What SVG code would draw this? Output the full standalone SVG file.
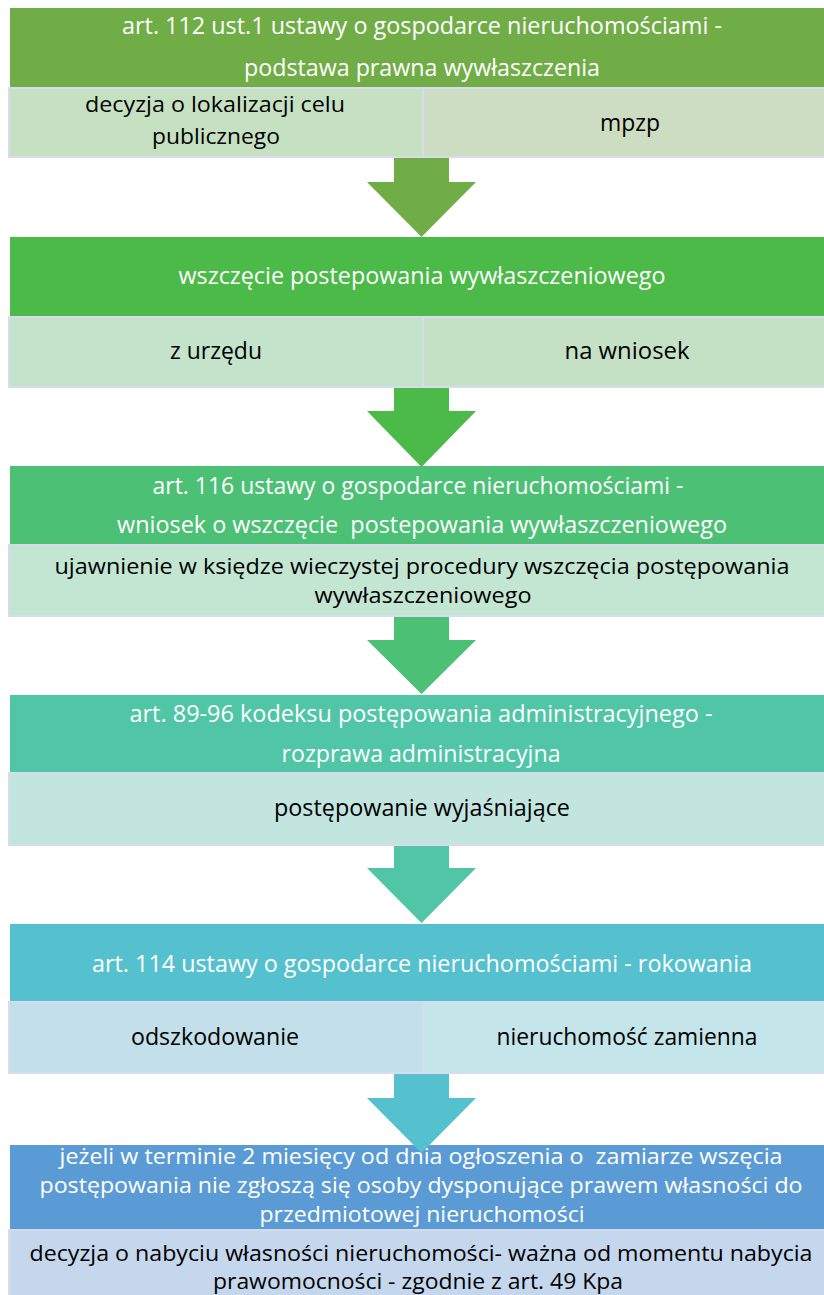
<svg xmlns="http://www.w3.org/2000/svg" width="824" height="1295" viewBox="0 0 824 1295">
<style>
.h{font-family:"Open Sans","Liberation Sans",sans-serif;font-size:23px;fill:#ffffff;text-anchor:middle;white-space:pre}
.t{font-family:"Open Sans","Liberation Sans",sans-serif;font-size:23px;fill:#000000;text-anchor:middle;white-space:pre}
.s{font-size:22px}
.cell{stroke:#D6DCEE;stroke-width:2}
</style>
<rect width="824" height="1295" fill="#ffffff"/>
<g id="node1">
<rect x="10" y="8" width="824" height="80" fill="#70AD47"/>
<rect class="cell" x="9" y="88" width="414" height="69" fill="#C6E0C2"/>
<rect class="cell" x="423" y="88" width="410" height="69" fill="#CCDDC1"/>
<text class="h" x="422" y="34" textLength="600" lengthAdjust="spacingAndGlyphs">art. 112 ust.1 ustawy o gospodarce nieruchomościami -</text>
<text class="h" x="422" y="76" textLength="356" lengthAdjust="spacingAndGlyphs">podstawa prawna wywłaszczenia</text>
<text class="t s" x="215" y="112" textLength="260" lengthAdjust="spacingAndGlyphs">decyzja o lokalizacji celu</text>
<text class="t s" x="216" y="144" textLength="128" lengthAdjust="spacingAndGlyphs">publicznego</text>
<text class="t" x="630" y="131" textLength="60" lengthAdjust="spacingAndGlyphs">mpzp</text>
</g>
<g id="node2">
<rect x="10" y="237" width="824" height="80" fill="#4BBA48"/>
<rect class="cell" x="9" y="317" width="414" height="70" fill="#C3E3CA"/>
<rect class="cell" x="423" y="317" width="410" height="70" fill="#C4E1C6"/>
<text class="h" x="422" y="284" textLength="487" lengthAdjust="spacingAndGlyphs">wszczęcie postepowania wywłaszczeniowego</text>
<text class="t" x="216" y="359" textLength="92" lengthAdjust="spacingAndGlyphs">z urzędu</text>
<text class="t" x="627" y="359" textLength="125" lengthAdjust="spacingAndGlyphs">na wniosek</text>
</g>
<g id="node3">
<rect x="10" y="466" width="824" height="79" fill="#4CC175"/>
<rect class="cell" x="9" y="545" width="824" height="71" fill="#C3E6D3"/>
<text class="h" x="418" y="494" textLength="531" lengthAdjust="spacingAndGlyphs">art. 116 ustawy o gospodarce nieruchomościami -</text>
<text class="h" x="422" y="533" textLength="610" lengthAdjust="spacingAndGlyphs">wniosek o wszczęcie  postepowania wywłaszczeniowego</text>
<text class="t s" x="422" y="574" textLength="735" lengthAdjust="spacingAndGlyphs">ujawnienie w księdze wieczystej procedury wszczęcia postępowania</text>
<text class="t s" x="423" y="603" textLength="217" lengthAdjust="spacingAndGlyphs">wywłaszczeniowego</text>
</g>
<g id="node4">
<rect x="10" y="695" width="824" height="78" fill="#51C6A6"/>
<rect class="cell" x="9" y="773" width="824" height="72" fill="#C2E6DF"/>
<text class="h" x="421" y="722" textLength="583" lengthAdjust="spacingAndGlyphs">art. 89-96 kodeksu postępowania administracyjnego -</text>
<text class="h" x="421" y="762" textLength="279" lengthAdjust="spacingAndGlyphs">rozprawa administracyjna</text>
<text class="t" x="422" y="816" textLength="296" lengthAdjust="spacingAndGlyphs">postępowanie wyjaśniające</text>
</g>
<g id="node5">
<rect x="10" y="924" width="824" height="78" fill="#55C1CF"/>
<rect class="cell" x="9" y="1002" width="414" height="71" fill="#C3DFE9"/>
<rect class="cell" x="423" y="1002" width="410" height="71" fill="#C4E5EA"/>
<text class="h" x="422" y="972" textLength="660" lengthAdjust="spacingAndGlyphs">art. 114 ustawy o gospodarce nieruchomościami - rokowania</text>
<text class="t" x="215" y="1045" textLength="168" lengthAdjust="spacingAndGlyphs">odszkodowanie</text>
<text class="t" x="627" y="1045" textLength="261" lengthAdjust="spacingAndGlyphs">nieruchomość zamienna</text>
</g>
<g id="node6">
<rect x="10" y="1145" width="824" height="85" fill="#5B9BD5"/>
<rect class="cell" x="9" y="1230" width="824" height="70" fill="#C5D7EC"/>
<text class="h s" x="421" y="1164" textLength="723" lengthAdjust="spacingAndGlyphs">jeżeli w terminie 2 miesięcy od dnia ogłoszenia o  zamiarze wszęcia</text>
<text class="h s" x="421" y="1193" textLength="763" lengthAdjust="spacingAndGlyphs">postępowania nie zgłoszą się osoby dysponujące prawem własności do</text>
<text class="h s" x="422" y="1222" textLength="325" lengthAdjust="spacingAndGlyphs">przedmiotowej nieruchomości</text>
<text class="t s" x="421" y="1261" textLength="783" lengthAdjust="spacingAndGlyphs">decyzja o nabyciu własności nieruchomości- ważna od momentu nabycia</text>
<text class="t s" x="418" y="1289" textLength="410" lengthAdjust="spacingAndGlyphs">prawomocności - zgodnie z art. 49 Kpa</text>
</g>
<g id="connectors">
<polygon points="394,158 449,158 449,182 476,182 421.5,237 367,182 394,182" fill="#70AD47"/>
<polygon points="394,388 449,388 449,411 476,411 421.5,467 367,411 394,411" fill="#4BBA48"/>
<polygon points="394,617 449,617 449,640 476,640 421.5,694 367,640 394,640" fill="#4CC175"/>
<polygon points="394,846 449,846 449,868 476,868 421.5,923 367,868 394,868" fill="#51C6A6"/>
<polygon points="394,1074 449,1074 449,1098 476,1098 421.5,1153 367,1098 394,1098" fill="#55C1CF"/>
</g>
</svg>
